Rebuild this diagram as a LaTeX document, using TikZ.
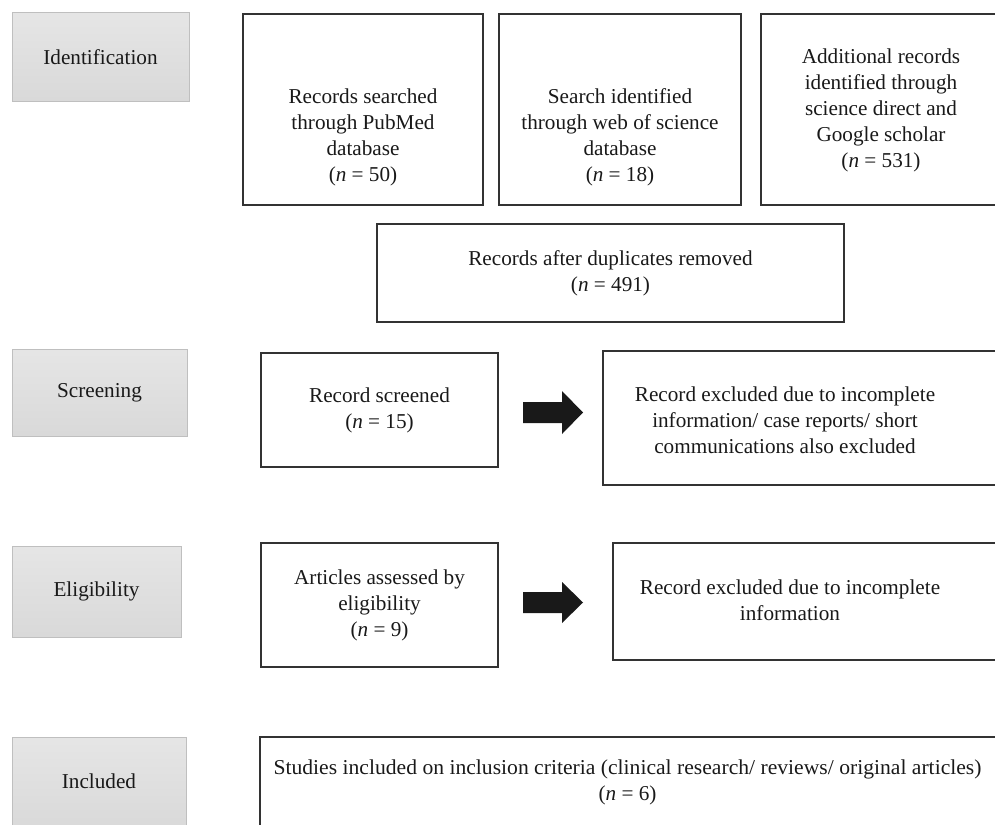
\documentclass[tikz,border=0pt]{standalone}
\usepackage{fontspec}
\setmainfont{Liberation Serif}
\begin{document}
\begin{tikzpicture}[x=1pt,y=-1pt,
  stage/.style={draw=black!25, line width=1pt, top color=black!10, bottom color=black!15, inner sep=0pt},
  box/.style={draw=black!80, line width=1.4pt, inner sep=0pt},
  txt/.style={align=center, inner sep=0pt, font=\fontsize{21.2}{26}\selectfont, text=black!90},
  blockarrow/.style={fill=black!90}]
\useasboundingbox (0,0) rectangle (995,824);
\clip (0,0) rectangle (995,824);

% stage labels
\draw[stage] (12,13) rectangle (189,102);
\node[txt] (idt) at (100.5,57.5) {Identification};
\draw[stage] (12,349) rectangle (187,436);
\node[txt] (sct) at (99.5,392.5) {Screening};
\draw[stage] (12,546) rectangle (181,637);
\node[txt] (elt) at (96.5,591.5) {Eligibility};
\draw[stage] (12,737) rectangle (186,830);
\node[txt] (int) at (99,781.5) {Included};

% identification boxes
\draw[box] (243,14) rectangle (483,205);
\node[txt] (b1) at (363,137) {Records searched\\through PubMed\\database\\(\textit{n} = 50)};
\draw[box] (499,14) rectangle (741,205);
\node[txt] (b2) at (620,137) {Search identified\\through web of science\\database\\(\textit{n} = 18)};
\draw[box] (761,14) rectangle (1001,205);
\node[txt] (b3) at (881,110) {Additional records\\identified through\\science direct and\\Google scholar\\(\textit{n} = 531)};

\draw[box] (377,224) rectangle (844,322);
\node[txt] (dup) at (610.5,273) {Records after duplicates removed\\(\textit{n} = 491)};

% screening
\draw[box] (261,353) rectangle (498,467);
\node[txt] (scr) at (379.5,410) {Record screened\\(\textit{n} = 15)};
\draw[box] (603,351) rectangle (1001,485);
\node[txt] (ex1) at (785,420) {Record excluded due to incomplete\\information/ case reports/ short\\communications also excluded};
\coordinate (a1) at (523,412.5);
\fill[blockarrow] (a1) ++(0,-10.5) -- ++(39,0) -- ++(0,-11) -- ++(21,21.5) -- ++(-21,21.5) -- ++(0,-11) -- ++(-39,0) -- cycle;

% eligibility
\draw[box] (261,543) rectangle (498,667);
\node[txt] (art) at (379.5,605) {Articles assessed by\\eligibility\\(\textit{n} = 9)};
\draw[box] (613,543) rectangle (1001,660);
\node[txt] (ex2) at (790,600) {Record excluded due to incomplete\\information};
\coordinate (a2) at (523,602.5);
\fill[blockarrow] (a2) ++(0,-10.5) -- ++(39,0) -- ++(0,-10) -- ++(21,20.5) -- ++(-21,20.5) -- ++(0,-10) -- ++(-39,0) -- cycle;

% included
\draw[box] (260,737) rectangle (1001,830);
\node[txt] (inc) at (627.5,782) {\scalebox{1.02}[1]{Studies included on inclusion criteria (clinical research/ reviews/ original articles)}\\(\textit{n} = 6)};
\end{tikzpicture}
\end{document}
